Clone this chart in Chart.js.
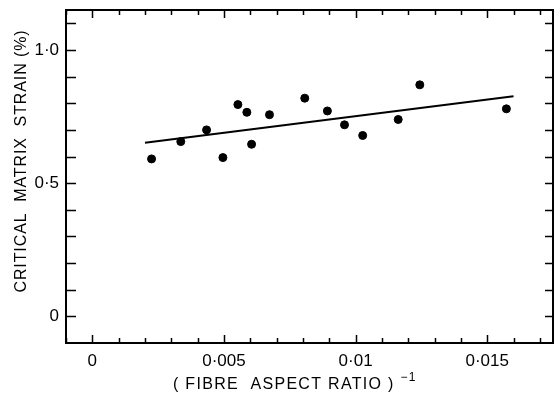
<!DOCTYPE html>
<html>
<head>
<meta charset="utf-8">
<script src="https://cdn.jsdelivr.net/npm/chart.js@4/dist/chart.umd.min.js"></script>
<style>
  html, body { margin: 0; padding: 0; background: #fff; }
  #wrap { width: 554px; height: 396px; }
</style>
</head>
<body>
<div id="wrap"><canvas id="chart"></canvas></div>
<script>
// measured points: (fibre aspect ratio)^-1 vs critical matrix strain (%)
const aspectInv = [0.00225, 0.00336, 0.00434, 0.00496, 0.00553, 0.00587, 0.00605, 0.00673,
                   0.00807, 0.00893, 0.00958, 0.01027, 0.01162, 0.01244, 0.01573];
const strain = [0.591, 0.656, 0.700, 0.596, 0.795, 0.766, 0.646, 0.757,
                0.819, 0.771, 0.719, 0.679, 0.739, 0.869, 0.779];

// fitted straight line
const fitX = [0.002, 0.016];
const fitY = [0.652, 0.826];

// axis ticks
const xTickValues = [0, 0.005, 0.01, 0.015];
const xTickLabels = ['0', '0\u00b7005', '0\u00b701', '0\u00b7015'];
const yTickValues = [0, 0.5, 1.0];
const yTickLabels = ['0', '0\u00b75', '1\u00b70'];

const FONT = "'Liberation Sans', Arial, sans-serif";

// frame, inward ticks on all four sides, and the axis titles
const framePlugin = {
    id: 'frame',
    afterDraw(chart) {
        const { ctx, chartArea: a, scales } = chart;
        const xs = scales.x, ys = scales.y;
        ctx.save();
        ctx.strokeStyle = '#000';
        ctx.lineWidth = 1.5;
        // minor/major x ticks every 0.001
        for (let i = -1; i <= 17; i++) {
            const v = i / 1000;
            const px = Math.round(xs.getPixelForValue(v)) + 0.5;
            const len = (i % 5 === 0) ? 8 : 5;
            ctx.beginPath();
            ctx.moveTo(px, a.bottom); ctx.lineTo(px, a.bottom - len);
            ctx.moveTo(px, a.top); ctx.lineTo(px, a.top + len);
            ctx.stroke();
        }
        // y ticks every 0.1
        for (let i = 0; i <= 11; i++) {
            const v = i / 10;
            const py = Math.round(ys.getPixelForValue(v)) + 0.5;
            ctx.beginPath();
            ctx.moveTo(a.left, py); ctx.lineTo(a.left + 10, py);
            ctx.moveTo(a.right, py); ctx.lineTo(a.right - 8, py);
            ctx.stroke();
        }
        ctx.lineWidth = 2;
        ctx.strokeRect(a.left, a.top, a.right - a.left, a.bottom - a.top);

        ctx.fillStyle = '#000';
        // x title with superscript
        ctx.font = '16px ' + FONT;
        ctx.letterSpacing = '1.3px';
        ctx.textBaseline = 'alphabetic';
        ctx.textAlign = 'left';
        const xt = '( FIBRE  ASPECT RATIO )';
        const w = ctx.measureText(xt).width;
        const x0 = 173;
        ctx.fillText(xt, x0, 389);
        ctx.font = '12px ' + FONT;
        ctx.letterSpacing = '1px';
        ctx.fillText('\u22121', x0 + w + 6, 381);

        // y title, rotated
        ctx.font = '16px ' + FONT;
        ctx.letterSpacing = '0.9px';
        ctx.translate(26, 161);
        ctx.rotate(-Math.PI / 2);
        ctx.textAlign = 'center';
        ctx.fillText('CRITICAL  MATRIX  STRAIN (%)', 0, 0);
        ctx.restore();
    }
};

const ctx = document.getElementById('chart').getContext('2d');
const chart = new Chart(ctx, {
    type: 'scatter',
    data: {
        datasets: [{
            data: aspectInv.map((x, i) => ({ x: x, y: strain[i] })),
            backgroundColor: '#000',
            borderColor: '#000',
            pointRadius: 4,
            pointHoverRadius: 4
        }, {
            type: 'line',
            data: fitX.map((x, i) => ({ x: x, y: fitY[i] })),
            borderColor: '#000',
            borderWidth: 2,
            pointRadius: 0,
            fill: false
        }]
    },
    plugins: [framePlugin],
    options: {
        responsive: true,
        maintainAspectRatio: false,
        animation: false,
        layout: { autoPadding: false, padding: { top: 10, right: 1, left: 0, bottom: 0 } },
        plugins: {
            legend: { display: false },
            tooltip: { enabled: false }
        },
        scales: {
            x: {
                type: 'linear',
                min: -0.001,
                max: 0.0175,
                grid: { display: false, drawTicks: false },
                border: { display: false },
                afterBuildTicks: (scale) => {
                    scale.ticks = xTickValues.map(v => ({ value: v }));
                },
                afterFit: (scale) => {
                    scale.height = 53;
                    scale.paddingLeft = 0;
                    scale.paddingRight = 0;
                },
                ticks: {
                    color: '#000',
                    padding: 8,
                    maxRotation: 0,
                    autoSkip: false,
                    font: { family: FONT, size: 17 },
                    callback: (v) => {
                        const i = xTickValues.findIndex(t => Math.abs(t - v) < 1e-9);
                        return i >= 0 ? xTickLabels[i] : '';
                    }
                }
            },
            y: {
                type: 'linear',
                min: -0.1,
                max: 1.15,
                grid: { display: false, drawTicks: false },
                border: { display: false },
                afterBuildTicks: (scale) => {
                    scale.ticks = yTickValues.map(v => ({ value: v }));
                },
                afterFit: (scale) => {
                    scale.width = 66;
                    scale.paddingTop = 0;
                    scale.paddingBottom = 0;
                },
                ticks: {
                    color: '#000',
                    padding: 7,
                    font: { family: FONT, size: 17 },
                    callback: (v) => {
                        const i = yTickValues.findIndex(t => Math.abs(t - v) < 1e-9);
                        return i >= 0 ? yTickLabels[i] : '';
                    }
                }
            }
        }
    }
});
</script>
</body>
</html>
